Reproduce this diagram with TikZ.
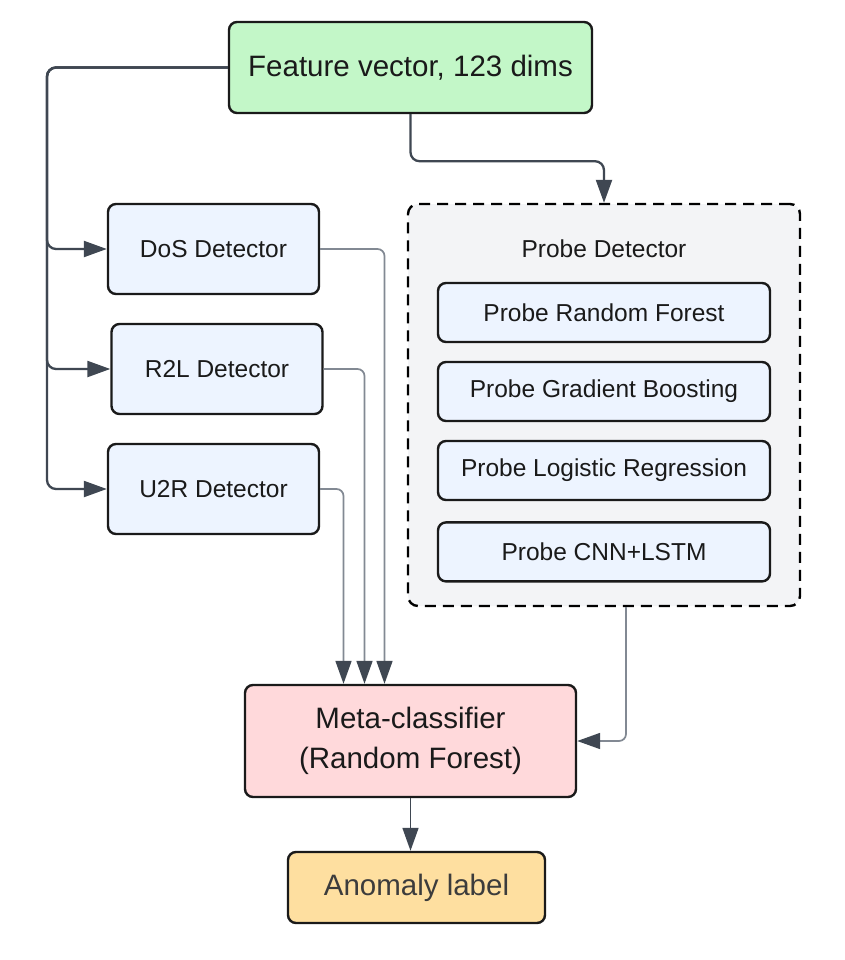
\documentclass[tikz,border=0pt]{standalone}
\usepackage{fontspec}
\setmainfont{Liberation Sans}
\usetikzlibrary{arrows.meta, positioning}
\definecolor{featgreen}{RGB}{195,247,200}
\definecolor{detblue}{RGB}{237,244,255}
\definecolor{groupgray}{RGB}{243,244,246}
\definecolor{metapink}{RGB}{255,217,219}
\definecolor{labelorange}{RGB}{254,223,160}
\definecolor{edgedark}{RGB}{63,71,82}
\definecolor{edgegray}{RGB}{130,137,147}
\definecolor{ink}{RGB}{26,26,26}
\definecolor{softink}{RGB}{60,60,60}
\tikzstyle{block} = [draw=ink, line width=2.4pt, rectangle, rounded corners=8pt, inner sep=0pt, text=ink]
\tikzstyle{detector} = [block, fill=detblue, minimum width=211pt, minimum height=90pt, font=\fontsize{24.5}{29}\selectfont]
\tikzstyle{model} = [block, fill=detblue, minimum width=332pt, minimum height=59pt, font=\fontsize{24.5}{29}\selectfont]
\tikzstyle{major} = [block, align=center, font=\fontsize{29.5}{40}\selectfont]
\tikzstyle{group} = [draw=black, line width=2.4pt, dash pattern=on 11pt off 7pt, rounded corners=10pt, fill=groupgray, minimum width=392pt, minimum height=402pt, inner sep=0pt]
\tikzstyle{title} = [text=ink, font=\fontsize{24.5}{29}\selectfont]
\tikzstyle{feed} = [-{Triangle[length=23pt, width=16pt]}, line width=2.3pt, draw=edgedark, rounded corners=9pt]
\tikzstyle{vote} = [-{Triangle[length=23pt, width=16pt, color=edgedark]}, line width=1.7pt, draw=edgegray, rounded corners=7pt]
\begin{document}
\begin{tikzpicture}[x=1pt, y=1pt]
    \fill [white] (0,0) rectangle (844,-960);
    \useasboundingbox (0,0) rectangle (844,-960);

    \node (feature) [major, fill=featgreen, minimum width=363pt, minimum height=91pt] at (410.5,-67.5) {Feature vector, 123 dims};
    \node (dos) [detector] at (213.5,-249) {DoS Detector};
    \node (r2l) [detector, below=27.6pt of dos, xshift=3.5pt] {R2L Detector};
    \node (u2r) [detector, below=27.6pt of r2l, xshift=-3.5pt] {U2R Detector};

    \node (probe) [group] at (604,-405) {};
    \node (probe title) [title] at ([yshift=-46pt]probe.north) {Probe Detector};
    \node (rf) [model] at (604,-312.5) {Probe Random Forest};
    \node (gb) [model, below=17.6pt of rf] {Probe Gradient Boosting};
    \node (lr) [model, below=17.6pt of gb] {Probe Logistic Regression};
    \node (cnn) [model, below=20pt of lr] {Probe CNN+LSTM};

    \node (meta) [major, fill=metapink, minimum width=331pt, minimum height=112pt] at (410.5,-741) {Meta-classifier\\(Random Forest)};
    \node (anomaly) [major, fill=labelorange, text=softink, minimum width=257pt, minimum height=71pt, below=52.6pt of meta, xshift=6pt] {Anomaly label};

    \coordinate (bus) at (47,-67.5);

    % Arrows.
    \foreach \d in {dos, r2l, u2r} {%
        \draw [feed] (feature.west) -- (bus) |- (\d.west);
    }
    \draw [feed] (feature.south) -- ++(0,-47) -| (probe.north);

    \foreach \d/\s in {dos/-26pt, r2l/-46pt, u2r/-67pt} {%
        \draw [vote] (\d.east) -| ([xshift=\s]meta.north);
    }
    \draw [vote] ([xshift=22pt]probe.south) |- (meta.east);
    \draw [feed, line width=1.6pt] (meta.south) -- (meta.south |- anomaly.north);
\end{tikzpicture}
\end{document}
